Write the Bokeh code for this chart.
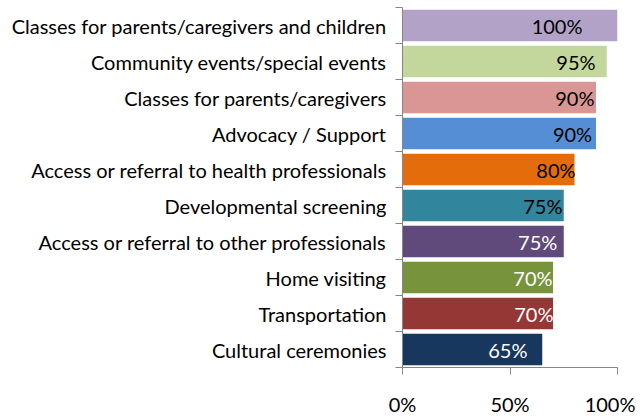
from bokeh.plotting import figure
from bokeh.models import FixedTicker, ColumnDataSource
from bokeh.embed import file_html
from bokeh.resources import INLINE
from bokeh.core.properties import value

categories = [
    "Classes for parents/caregivers and children",
    "Community events/special events",
    "Classes for parents/caregivers",
    "Advocacy / Support",
    "Access or referral to health professionals",
    "Developmental screening",
    "Access or referral to other professionals",
    "Home visiting",
    "Transportation",
    "Cultural ceremonies",
]
values = [100, 95, 90, 90, 80, 75, 75, 70, 70, 65]
colors = ["#B3A2C7", "#C3D69B", "#D99694", "#558ED5", "#E46C0A",
          "#31859C", "#604A7B", "#77933C", "#953735", "#17375E"]
label_colors = ["black"] * 6 + ["white"] * 4
label_shift = [16.3, 5.2, 0.7, 1.8, -0.5, 0.6, 3.0, 0.2, -0.2, 6.9]
x_ticks = [0, 50, 100]
x_tick_labels = ["0%", "50%", "100%"]

n = len(categories)
ypos = [n - 1 - i + 0.5 for i in range(n)]
labels = [f"{v}%" for v in values]
label_x = [v - s for v, s in zip(values, label_shift)]

src = ColumnDataSource(dict(y=ypos, v=values, c=colors, lab=labels,
                            lx=label_x, lc=label_colors))

FONT = "Lato"
FS = "20px"

p = figure(width=635, height=418, output_backend="svg", toolbar_location=None,
           x_range=(0, 100), y_range=(0, n),
           min_border_left=402, min_border_right=18,
           min_border_top=7, min_border_bottom=39)
p.outline_line_color = None
p.grid.visible = False

p.hbar(y="y", right="v", left=0, height=0.88, fill_color="c",
       line_color=None, source=src)
p.text(x="lx", y="y", text="lab", text_color="lc", text_align="right",
       text_baseline="middle", text_font=value(FONT), text_font_size=FS,
       source=src)

xa = p.xaxis[0]
xa.ticker = FixedTicker(ticks=x_ticks)
xa.major_label_overrides = {t: l for t, l in zip(x_ticks, x_tick_labels)}
xa.axis_line_color = "#868686"
xa.major_tick_line_color = "#868686"
xa.major_tick_in = 0
xa.major_tick_out = 7
xa.minor_tick_line_color = None
xa.major_label_text_font = FONT
xa.major_label_text_font_size = FS
xa.major_label_text_color = "black"
xa.major_label_standoff = 17

ya = p.yaxis[0]
ya.ticker = FixedTicker(ticks=ypos, minor_ticks=list(range(n + 1)))
ya.major_label_overrides = {y: c for y, c in zip(ypos, categories)}
ya.axis_line_color = "#868686"
ya.major_tick_line_color = None
ya.major_tick_in = 0
ya.major_tick_out = 0
ya.minor_tick_line_color = "#868686"
ya.minor_tick_in = 0
ya.minor_tick_out = 7
ya.major_label_text_font = FONT
ya.major_label_text_font_size = FS
ya.major_label_text_color = "black"
ya.major_label_standoff = 9

open("out.html", "w").write(file_html(p, INLINE))
